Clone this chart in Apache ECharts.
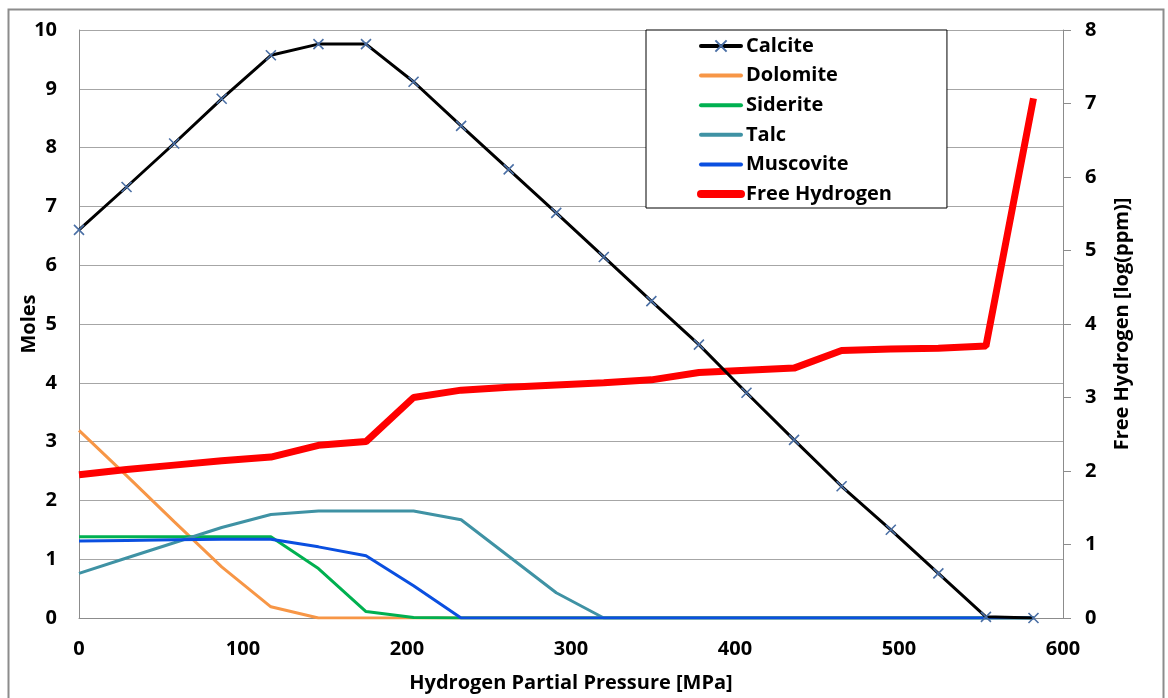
<!DOCTYPE html>
<html><head><meta charset="utf-8">
<script src="https://cdn.jsdelivr.net/npm/echarts@6/dist/echarts.min.js"></script>
<style>html,body{margin:0;padding:0;background:#fff}#c{width:1168px;height:698px}</style>
</head><body><div id="c"></div>
<script>
const pressure = [0,29,58,87,117,146,175,204,233,262,291,320,349,378,407,436,465,495,524,553,582];
const calcite = [6.6,7.33,8.07,8.83,9.57,9.76,9.76,9.12,8.37,7.63,6.89,6.14,5.39,4.65,3.83,3.03,2.24,1.50,0.76,0.02,0.0];
const dolomite = [3.19,2.42,1.64,0.87,0.19,0,0,0,0,0,0,0,0,0,0,0,0,0,0,0,0];
const siderite = [1.38,1.38,1.38,1.38,1.38,0.84,0.11,0.01,0,0,0,0,0,0,0,0,0,0,0,0,0];
const talc = [0.76,1.02,1.28,1.54,1.76,1.82,1.82,1.82,1.67,1.05,0.43,0,0,0,0,0,0,0,0,0,0];
const muscovite = [1.31,1.32,1.33,1.34,1.34,1.21,1.06,0.55,0,0,0,0,0,0,0,0,0,0,0,0,0];
const freeHydrogen = [1.95,2.02,2.08,2.14,2.19,2.35,2.40,3.00,3.10,3.14,3.17,3.20,3.24,3.34,3.37,3.40,3.64,3.66,3.67,3.70,7.07];
const xTicks = [0,100,200,300,400,500,600];

const pair = arr => pressure.map((p,i)=>[p, arr[i]]);
const font = '"Open Sans", "DejaVu Sans", sans-serif';
const FS = 20;
const hideSym = {opacity:0, color:'transparent', borderWidth:0};
const chart = echarts.init(document.getElementById('c'));
chart.setOption({
  animation:false,
  backgroundColor:'#fff',
  textStyle:{fontFamily:font},
  graphic:[{type:'rect', shape:{x:8.5,y:9.5,width:1155,height:720}, style:{fill:'none',stroke:'#8c8c8c',lineWidth:2}, z:-1}],
  grid:{left:79, right:105, top:30, bottom:80},
  legend:{
    orient:'vertical', left:646, top:30,
    padding:[5,55,3,51],
    borderColor:'#000', borderWidth:1, backgroundColor:'#fff',
    itemWidth:40, itemHeight:14, itemGap:7.6,
    textStyle:{fontSize:FS, fontWeight:'bold', fontFamily:font, color:'#000', lineHeight:22},
    data:[
      {name:'Calcite', lineStyle:{width:4, cap:'round'}},
      {name:'Dolomite', itemStyle:hideSym, lineStyle:{width:4, cap:'round'}},
      {name:'Siderite', itemStyle:hideSym, lineStyle:{width:4, cap:'round'}},
      {name:'Talc', itemStyle:hideSym, lineStyle:{width:4, cap:'round'}},
      {name:'Muscovite', itemStyle:hideSym, lineStyle:{width:4, cap:'round'}},
      {name:'Free Hydrogen', itemStyle:hideSym, lineStyle:{width:8, cap:'round'}}
    ]
  },
  xAxis:{
    type:'value', min:0, max:600, interval:100,
    axisLine:{show:true, lineStyle:{color:'#8c8c8c'}},
    axisTick:{show:false},
    splitLine:{show:false},
    axisLabel:{fontSize:FS, fontWeight:'bold', color:'#000', margin:21,
      formatter: v => xTicks.includes(v) ? String(v) : ''},
    name:'Hydrogen Partial Pressure [MPa]', nameLocation:'middle', nameGap:55, nameMoveOverlap:false,
    nameTextStyle:{fontSize:FS, fontWeight:'bold', color:'#000'}
  },
  yAxis:[{
    type:'value', min:0, max:10, interval:1,
    axisLine:{show:true, lineStyle:{color:'#8c8c8c'}},
    axisTick:{show:false},
    splitLine:{show:true, lineStyle:{color:'#a6a6a6', width:1}},
    axisLabel:{fontSize:FS, fontWeight:'bold', color:'#000', margin:22},
    name:'Moles', nameLocation:'middle', nameGap:40, nameRotate:90, nameMoveOverlap:false,
    nameTextStyle:{fontSize:FS, fontWeight:'bold', color:'#000'}
  },{
    type:'value', min:0, max:8, interval:1, position:'right',
    axisLine:{show:true, lineStyle:{color:'#8c8c8c'}},
    axisTick:{show:true, inside:false, length:8, lineStyle:{color:'#8c8c8c'}},
    splitLine:{show:false},
    axisLabel:{fontSize:FS, fontWeight:'bold', color:'#000', margin:22},
    name:'Free Hydrogen [log(ppm)]', nameLocation:'middle', nameGap:49, nameRotate:90, nameMoveOverlap:false,
    nameTextStyle:{fontSize:FS, fontWeight:'bold', color:'#000'}
  }],
  series:[
    {name:'Dolomite', type:'line', data:pair(dolomite), showSymbol:false, symbol:'none', color:'#f79646', lineStyle:{width:3,color:'#f79646'}, z:2},
    {name:'Siderite', type:'line', data:pair(siderite), showSymbol:false, symbol:'none', color:'#00b050', lineStyle:{width:3,color:'#00b050'}, z:3},
    {name:'Talc', type:'line', data:pair(talc), showSymbol:false, symbol:'none', color:'#3f92a4', lineStyle:{width:3,color:'#3f92a4'}, z:3},
    {name:'Muscovite', type:'line', data:pair(muscovite), showSymbol:false, symbol:'none', color:'#0a4fe0', lineStyle:{width:3,color:'#0a4fe0'}, z:4},
    {name:'Free Hydrogen', type:'line', yAxisIndex:1, data:pair(freeHydrogen), showSymbol:false, symbol:'none', color:'#ff0000', lineStyle:{width:7,color:'#ff0000'}, z:5},
    {name:'Calcite', type:'line', data:pair(calcite), color:'#000',
      symbol:'path://M0,0L10,10M10,0L0,10', symbolSize:10, showSymbol:true,
      itemStyle:{color:'none', borderColor:'#4a6fa5', borderWidth:1.6},
      lineStyle:{width:3,color:'#000'}, z:6}
  ]
});
</script></body></html>
